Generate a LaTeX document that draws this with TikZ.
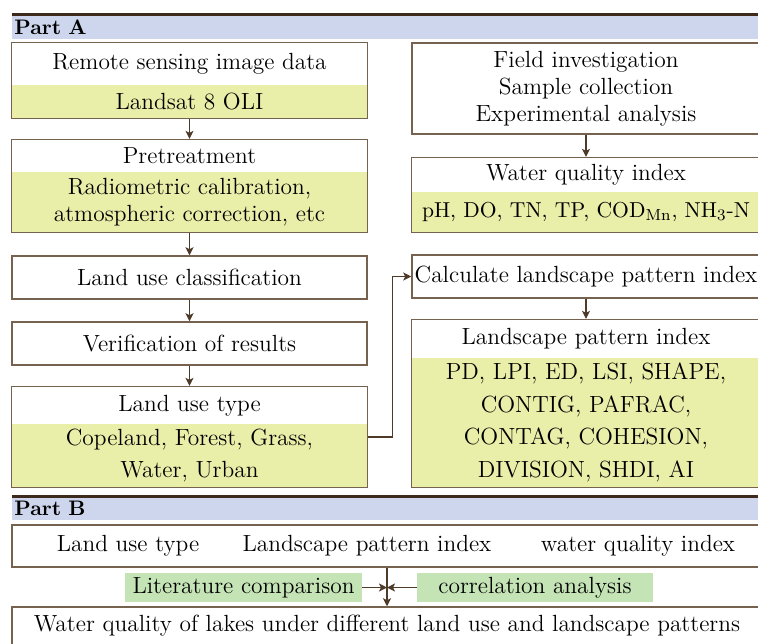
\documentclass[tikz,border=0pt]{standalone}
\usepackage{tikz}
\usetikzlibrary{arrows.meta,fit}
\definecolor{bandblue}{HTML}{CDD6EC}
\definecolor{paleyellow}{HTML}{E9EEA8}
\definecolor{palegreen}{HTML}{C5E4B6}
\definecolor{framebrown}{HTML}{75624F}
\definecolor{darkbrown}{HTML}{3E2A1A}
\definecolor{arrowbrown}{HTML}{4E3A28}

\begin{document}
\begin{tikzpicture}[x=0.5pt,y=-0.5pt,
    every node/.style={font=\fontsize{11.7}{13.5}\selectfont, inner sep=0pt, align=center},
    tall/.style={font=\fontsize{11.7}{16.3}\selectfont},
    half/.style={minimum width=177.5pt},
    rhalf/.style={minimum width=174pt},
    full/.style={minimum width=375pt},
    yel/.style={fill=paleyellow},
    frame/.style={draw=framebrown, line width=0.75pt, inner sep=0pt},
    band/.style={fill=bandblue, anchor=west, text width=371pt, inner xsep=1pt, align=left,
                 font=\bfseries\fontsize{10.5}{12}\selectfont},
    rule/.style={draw=darkbrown, line width=1.2pt},
    flow/.style={draw=arrowbrown, line width=0.6pt, -{Stealth[length=4pt,width=4pt,inset=1pt]}}]
  \useasboundingbox (0,0) rectangle (758,643);
  \fill[white] (0,0) rectangle (758,643);
  \clip (0,0) rectangle (758,643);

  % Part A
  \node[band, minimum height=12pt] (parta) at (12,27) {Part A};
  \draw[rule] (parta.north west) -- (parta.north east);

  % left column
  \node[half, minimum height=21pt] (rs) at (189.5,64) {Remote sensing image data};
  \node[half, yel, minimum height=16.5pt] (landsat) at (189.5,101.5) {Landsat 8 OLI};
  \node[frame, fit=(rs)(landsat)] (r1) {};
  \node[half, minimum height=16pt] (pre) at (189.5,156) {Pretreatment};
  \node[half, yel, minimum height=30pt] (radio) at (189.5,202) {Radiometric calibration,\\atmospheric correction, etc};
  \node[frame, fit=(pre)(radio)] (r2) {};
  \node[frame, half, minimum height=21.5pt] (r3) at (189.5,277.5) {Land use classification};
  \node[frame, half, minimum height=21.5pt] (r4) at (189.5,343.5) {Verification of results};
  \node[half, minimum height=18.5pt] (lut) at (189.5,405.5) {Land use type};
  \node[half, yel, minimum height=31.5pt, tall] (lutb) at (189.5,455.5) {Copeland, Forest, Grass,\\Water, Urban};
  \node[frame, fit=(lut)(lutb)] (r5) {};

  % right column
  \node[frame, rhalf, minimum height=45.5pt] (f1) at (586,88.5) {Field investigation\\Sample collection\\Experimental analysis};
  \node[rhalf, minimum height=17pt] (wqi) at (586,175) {Water quality index};
  \node[rhalf, yel, minimum height=20pt, font=\fontsize{10.8}{13}\selectfont] (wqib) at (586,212) {pH, DO, TN, TP, COD$_{\mathrm{Mn}}$, NH$_3$-N};
  \node[frame, fit=(wqi)(wqib)] (f2) {};
  \node[frame, rhalf, minimum height=21.5pt] (f3) at (586,276.5) {Calculate landscape pattern index};
  \node[rhalf, minimum height=19pt] (lpi) at (586,339) {Landscape pattern index};
  \node[rhalf, yel, minimum height=64.5pt, tall] (lpib) at (586,422.5) {PD, LPI, ED, LSI, SHAPE,\\CONTIG, PAFRAC,\\CONTAG, COHESION,\\DIVISION, SHDI, AI};
  \node[frame, fit=(lpi)(lpib)] (f4) {};

  \draw[flow] (r1) -- (r2);
  \draw[flow] (r2) -- (r3);
  \draw[flow] (r3) -- (r4);
  \draw[flow] (r4) -- (r5);
  \draw[flow] (f1) -- (f2);
  \draw[flow] (f3) -- (f4);
  \draw[flow] (r5.east) -- ++(24,0) |- (f3.west);

  % Part B
  \node[band, minimum height=11.5pt] (partb) at (12,508.5) {Part B};
  \draw[rule] (partb.north west) -- (partb.north east);
  \node[frame, full, minimum height=21pt] (b1) at (387,546) {};
  \node (lu) at (128,546) {Land use type};
  \node (lp) at (367,546) {Landscape pattern index};
  \node (wq) at (638,546) {water quality index};
  \node[fill=palegreen, minimum width=118.5pt, minimum height=14.5pt] (lit) at (243.5,587.5) {Literature comparison};
  \node[fill=palegreen, minimum width=118pt, minimum height=14.5pt] (corr) at (535,587.5) {correlation analysis};
  \node[frame, full, minimum height=19pt] (b2) at (387,626) {Water quality of lakes under different land use and landscape patterns};
  \coordinate (junc) at (b1.south |- lit);

  \draw[flow] (b1) -- (b2);
  \draw[flow] (lit) -- (junc);
  \draw[flow] (corr) -- (junc);
\end{tikzpicture}
\end{document}
